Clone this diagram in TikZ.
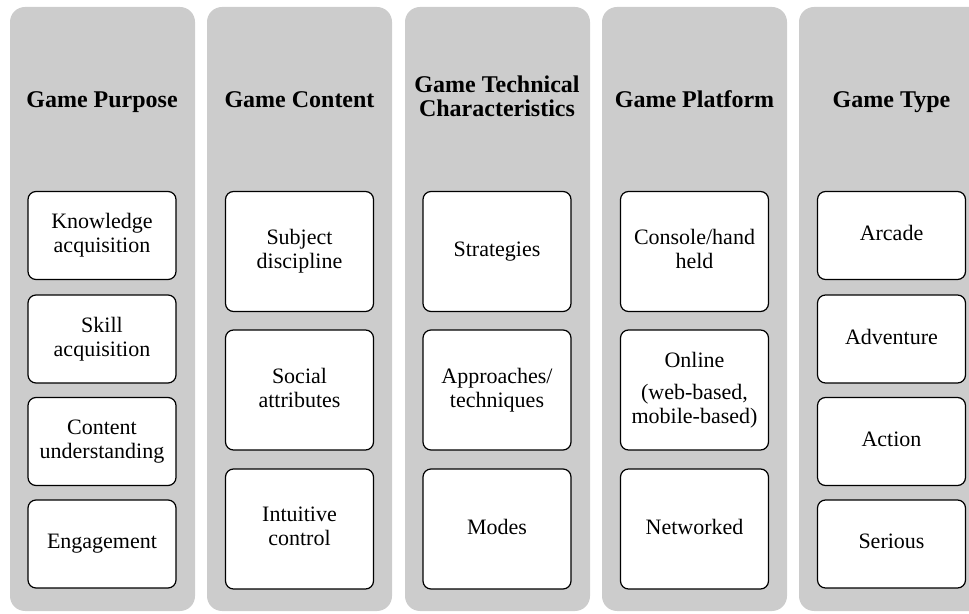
\documentclass[tikz,border=0pt]{standalone}
\usepackage{fontspec}
\setmainfont{Liberation Serif}
\definecolor{panel}{HTML}{CCCCCC}
\newcommand{\boxstrut}{\rule[-5pt]{0pt}{20pt}}
\begin{document}
\begin{tikzpicture}[x=1pt,y=1pt,
  colbox/.style={fill=panel,draw=none,rounded corners=15pt},
  ttl/.style={font=\fontsize{24}{24}\selectfont\bfseries,align=center,text=black,anchor=base,inner sep=0pt},
  item/.style={draw=black,line width=1.2pt,fill=white,rounded corners=8pt,
    minimum width=148pt,align=center,font=\fontsize{22}{24}\selectfont,inner sep=0pt,
    execute at begin node=\boxstrut,execute at end node=\boxstrut},
  short/.style={item,minimum height=88pt},
  tall/.style={item,minimum height=120pt}]
\useasboundingbox (0,0) rectangle (969,613);
\clip (0,0) rectangle (969,613);
% column panels
\foreach \cx in {10,207,405,602,799}
  \path[colbox] (\cx,2) rectangle ++(185,604);
% headings (base anchor sits on the last line)
\node[ttl] (h1) at (102,505) {Game Purpose};
\node[ttl] (h2) at (299.5,505) {Game Content};
\node[ttl] (h3) at (497,496) {Game Technical\\Characteristics};
\node[ttl] (h4) at (694.5,505) {Game Platform};
\node[ttl] (h5) at (891.5,505) {Game Type};
% Game Purpose
\node[short] (p1) at (102,377.5) {Knowledge\\acquisition};
\node[short] (p2) at (102,274) {Skill\\acquisition};
\node[short] (p3) at (102,171.5) {Content\\understanding};
\node[short] (p4) at (102,69) {Engagement};
% Game Content
\node[tall] (g1) at (299.5,361.5) {Subject\\discipline};
\node[tall] (g2) at (299.5,223) {Social\\attributes};
\node[tall] (g3) at (299.5,84) {Intuitive\\control};
% Technical characteristics
\node[tall] (t1) at (497,361.5) {Strategies};
\node[tall] (t2) at (497,223) {Approaches/\\techniques};
\node[tall] (t3) at (497,84) {Modes};
% Platform
\node[tall] (f1) at (694.5,361.5) {Console/hand\\held};
\node[tall] (f2) at (694.5,223) {Online\\[8pt](web-based,\\mobile-based)};
\node[tall] (f3) at (694.5,84) {Networked};
% Game type
\node[short] (y1) at (891.5,377.5) {Arcade};
\node[short] (y2) at (891.5,274) {Adventure};
\node[short] (y3) at (891.5,171.5) {Action};
\node[short] (y4) at (891.5,69) {Serious};
\end{tikzpicture}
\end{document}
